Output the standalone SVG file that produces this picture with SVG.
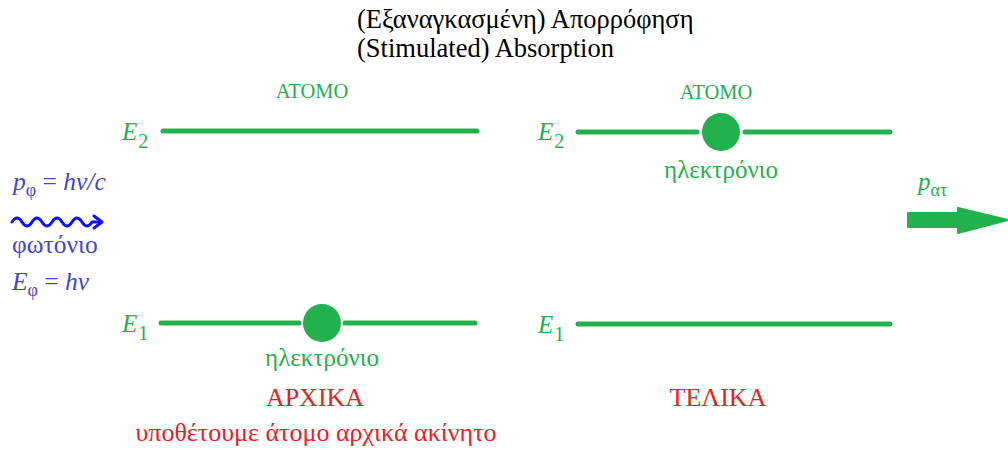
<svg xmlns="http://www.w3.org/2000/svg" width="1008" height="450" viewBox="0 0 1008 450">
<style>
text{font-family:"Liberation Serif",serif}
.t{font-size:26.5px;fill:#000}
.lvl{stroke:#22b14c;stroke-width:5;stroke-linecap:round;fill:none}
.el{fill:#22b14c}
.E{font-size:25px;font-style:italic;fill:#22b14c}
.sub{font-size:20px;font-style:normal}
.at{font-size:20.5px;fill:#22b14c}
.ek{font-size:25px;fill:#22b14c}
.r{fill:#ee1c24}
.b{fill:#3f48cc;font-size:25.5px}
.wave{fill:none;stroke:#1010ff;stroke-width:3;stroke-linecap:round;stroke-linejoin:round}
</style>
<g id="title">
<text class="t" font-family="Liberation Serif" x="357" y="28">(Εξαναγκασμένη) Απορρόφηση</text>
<text class="t" font-family="Liberation Serif" x="357" y="57">(Stimulated) Absorption</text>
</g>
<g id="photon">
<text class="b" font-family="Liberation Serif" x="13" y="190"><tspan font-style="italic">p</tspan><tspan font-size="18" dy="6">φ</tspan><tspan dy="-6"> = </tspan><tspan font-style="italic">hv/c</tspan></text>
<text class="b" font-family="Liberation Serif" x="12" y="253">φωτόνιο</text>
<text class="b" font-family="Liberation Serif" x="12" y="290"><tspan font-style="italic">E</tspan><tspan font-size="18" dy="6">φ</tspan><tspan dy="-6"> = </tspan><tspan font-style="italic">hv</tspan></text>
</g>
<g id="initial-atom">
<text class="at" font-family="Liberation Serif" x="312" y="98" text-anchor="middle">ΑΤΟΜΟ</text>
<text class="E" font-family="Liberation Serif" x="122" y="140">E<tspan class="sub" dx="1" dy="8">2</tspan></text>
<line class="lvl" x1="163" y1="131" x2="477" y2="131"/>
<text class="E" font-family="Liberation Serif" x="122" y="332">E<tspan class="sub" dx="1" dy="8">1</tspan></text>
<line class="lvl" x1="161" y1="323" x2="299" y2="323"/>
<line class="lvl" x1="345" y1="323" x2="475" y2="323"/>
<circle class="el" cx="322" cy="323" r="19"/>
<text class="ek" font-family="Liberation Serif" x="322" y="366" text-anchor="middle">ηλεκτρόνιο</text>
<text class="r" font-family="Liberation Serif" x="315" y="406" text-anchor="middle" font-size="26">ΑΡΧΙΚΑ</text>
<text class="r" font-family="Liberation Serif" x="316" y="441" text-anchor="middle" font-size="26">υποθέτουμε άτομο αρχικά ακίνητο</text>
</g>
<g id="final-atom">
<text class="at" font-family="Liberation Serif" x="716" y="99" text-anchor="middle">ΑΤΟΜΟ</text>
<text class="E" font-family="Liberation Serif" x="538" y="140">E<tspan class="sub" dx="1" dy="8">2</tspan></text>
<line class="lvl" x1="578" y1="132" x2="697" y2="132"/>
<line class="lvl" x1="745" y1="132" x2="890" y2="132"/>
<circle class="el" cx="721" cy="132" r="19"/>
<text class="ek" font-family="Liberation Serif" x="721" y="178" text-anchor="middle">ηλεκτρόνιο</text>
<text class="E" font-family="Liberation Serif" x="538" y="333">E<tspan class="sub" dx="1" dy="8">1</tspan></text>
<line class="lvl" x1="578" y1="324" x2="890" y2="324"/>
<text class="r" font-family="Liberation Serif" x="718" y="406" text-anchor="middle" font-size="26">ΤΕΛΙΚΑ</text>
</g>
<g id="momentum">
<text class="E" font-family="Liberation Serif" x="918" y="190" font-size="27">p<tspan font-style="normal" font-size="18" dy="6">ατ</tspan></text>
</g>
<g id="connectors">
<path class="wave" d="M12,222 q5,-8 10,0 t10,0 t10,0 t10,0 t10,0 t10,0 t10,0 t10,0 l8,0"/>
<path class="wave" d="M94,216 L102,222 L94,228"/>
<path d="M908,213 L958,213 L958,208 L1008,220 L958,233 L958,227 L908,227 Z" fill="#22b14c" stroke="#22b14c" stroke-width="2" stroke-linejoin="round"/>
</g>
</svg>
